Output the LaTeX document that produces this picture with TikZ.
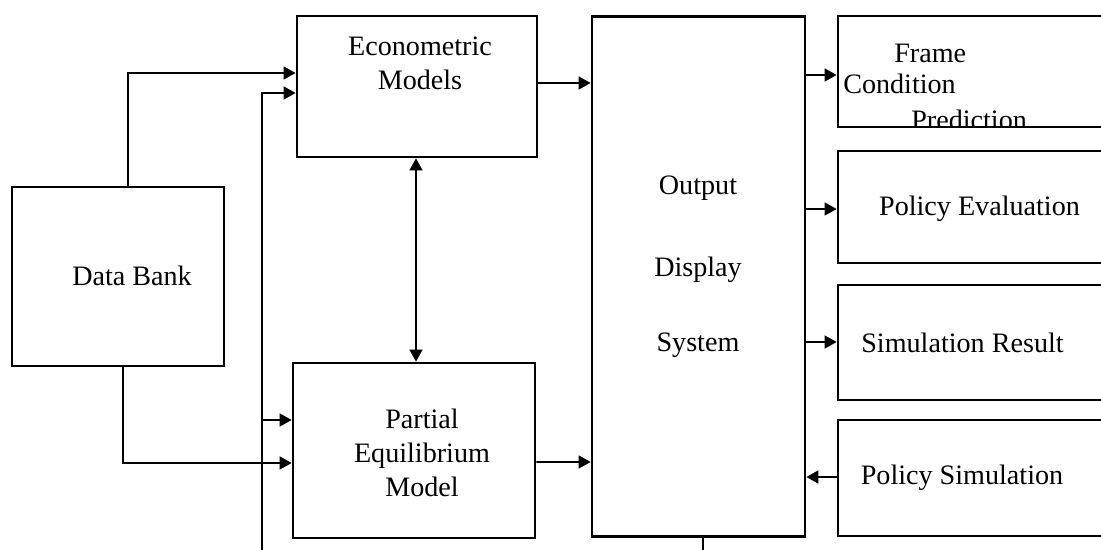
\documentclass[tikz,border=0pt]{standalone}
\usepackage{fontspec}
\setmainfont{Liberation Serif}
\usepackage{tikz}
\usetikzlibrary{arrows.meta,calc}

\begin{document}
\begin{tikzpicture}[x=0.025cm,y=-0.025cm,
  box/.style={draw,line width=1.9pt,inner sep=0pt},
  txt/.style={font=\fontsize{20}{24}\selectfont,align=center,inner sep=0pt},
  flow/.style={line width=1.3pt,-{Triangle[length=3mm,width=3.2mm]}},
  both/.style={line width=1.3pt,{Triangle[length=3mm,width=3.2mm]}-{Triangle[length=3mm,width=3.2mm]}}]
\clip (0,0) rectangle (1101,550);
\fill[white] (0,0) rectangle (1101,550);

% boxes
\node (bank) [box,minimum width=212*0.025cm,minimum height=179*0.025cm] at (118,276.5) {};
\node (econ) [box,minimum width=240*0.025cm,minimum height=141*0.025cm] at (417,86.5) {};
\node (peq) [box,minimum width=242*0.025cm,minimum height=175*0.025cm] at (414,450.5) {};
\node (ods) [box,minimum width=213*0.025cm,minimum height=520*0.025cm] at (698.5,276.5) {};
\node (frame) [box,minimum width=282*0.025cm,minimum height=111*0.025cm] at (979,71.5) {};
\node (peval) [box,minimum width=282*0.025cm,minimum height=112*0.025cm] at (979,207) {};
\node (simres) [box,minimum width=282*0.025cm,minimum height=115*0.025cm] at (979,342.5) {};
\node (polsim) [box,minimum width=282*0.025cm,minimum height=116*0.025cm] at (979,478) {};

% texts
\node (banktxt) [txt] at (132,276) {Data Bank};
\node (econtxt) [txt] at (420,63) {Econometric\\Models};
\node (peqtxt) [txt] at (422,453) {Partial\\Equilibrium\\Model};
\node (odsa) [txt,anchor=base] at (698,195) {Output};
\node (odsb) [txt,anchor=base] at (698,277) {Display};
\node (odsc) [txt,anchor=base] at (698,352) {System};
\begin{scope}
\clip ($(frame.south west)+(0,-2)$) rectangle (frame.north east);
\node (framea) [txt,anchor=base west] at (894,63) {Frame};
\node (frameb) [txt,anchor=base west] at (843,94) {Condition};
\node (framec) [txt,anchor=base west] at (911,130) {Prediction};
\end{scope}
\node (pevaltxt) [txt] at (979.5,209) {Policy Evaluation};
\node (simrestxt) [txt] at (962.5,343) {Simulation Result};
\node (polsimtxt) [txt] at (962,478) {Policy Simulation};

% connectors
\coordinate (feed) at (262,560);
\coordinate (out) at (703,560);
\draw[flow] ($(bank.north)+(10,0)$) |- ($(econ.west)+(0,-13.5)$);
\draw[flow] ($(bank.south)+(5,0)$) |- ($(peq.west)+(0,12.5)$);
\draw[flow] (feed) |- ($(econ.west)+(0,6.5)$);
\draw[flow] (feed |- 0,420) -- (peq.west |- 0,420);
\draw[flow] ($(econ.east)+(0,-3.5)$) -- (ods.west |- 0,83);
\draw[flow] ($(peq.east)+(0,11.5)$) -- (ods.west |- 0,462);
\draw[both] (econ.south -| 416,0) -- (peq.north -| 416,0);
\draw[flow] (ods.east |- 0,75) -- (frame.west |- 0,75);
\draw[flow] (ods.east |- 0,209) -- (peval.west |- 0,209);
\draw[flow] (ods.east |- 0,342) -- (simres.west |- 0,342);
\draw[flow] (polsim.west |- 0,477) -- (ods.east |- 0,477);
\draw[line width=1.3pt] (ods.south -| out) -- (out);
\end{tikzpicture}
\end{document}
